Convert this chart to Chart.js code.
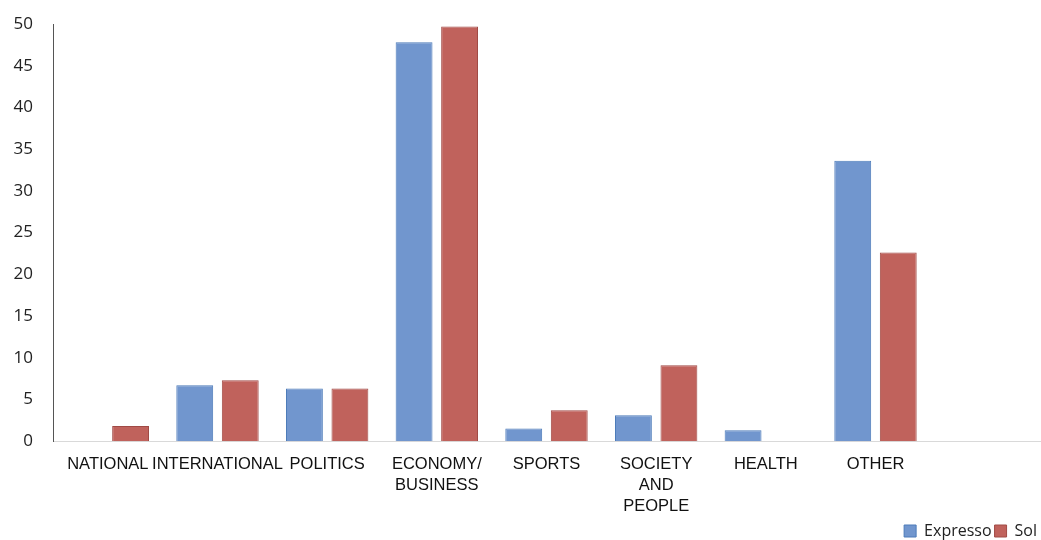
<!DOCTYPE html>
<html>
<head>
<meta charset="utf-8">
<script src="https://cdn.jsdelivr.net/npm/chart.js@4"></script>
<style>
    html, body { margin: 0; padding: 0; background: #ffffff; }
    #wrap { width: 1041px; height: 540px; }
</style>
</head>
<body>
<div id="wrap"><canvas id="grafico_temas"></canvas></div>
<script>
// categorias (a ultima fica vazia, como no original)
const categorias = ['NATIONAL', 'INTERNATIONAL', 'POLITICS', ['ECONOMY/', 'BUSINESS'], 'SPORTS',
    ['SOCIETY', 'AND', 'PEOPLE'], 'HEALTH', 'OTHER', ''];
const dadosExpresso = [0, 6.7, 6.3, 47.8, 1.5, 3.1, 1.3, 33.6, null];
const dadosSol = [1.8, 7.3, 6.3, 49.7, 3.7, 9.1, 0, 22.6, null];
const ticksY = [0, 5, 10, 15, 20, 25, 30, 35, 40, 45, 50];

const ctx = document.getElementById('grafico_temas').getContext('2d');
const myChart = new Chart(ctx, {
    type: 'bar',
    data: {
        labels: categorias,
        datasets: [{
            label: 'Expresso',
            data: dadosExpresso,
            backgroundColor: '#7196ce',
            borderColor: '#4c7bb9',
            borderWidth: 1,
            borderSkipped: 'bottom'
        }, {
            label: 'Sol',
            data: dadosSol,
            backgroundColor: '#c0625c',
            borderColor: '#a04a45',
            borderWidth: 1,
            borderSkipped: 'bottom'
        }]
    },
    options: {
        responsive: true,
        maintainAspectRatio: false,
        animation: false,
        categoryPercentage: 0.83,
        barPercentage: 0.81,
        layout: {
            padding: { top: 24, left: 12, right: 1, bottom: -9 }
        },
        plugins: {
            tooltip: { enabled: false },
            legend: {
                position: 'bottom',
                align: 'end',
                labels: {
                    boxWidth: 12,
                    boxHeight: 12,
                    padding: 3,
                    color: '#222',
                    font: { family: 'Open Sans', size: 16 }
                }
            }
        },
        scales: {
            x: {
                grid: { display: false, drawTicks: false },
                border: { color: '#d9d9d9', width: 1 },
                afterFit: function (scale) {
                    // sem folga lateral extra por causa dos rotulos
                    scale.paddingLeft = 0;
                    scale.paddingRight = 0;
                    scale.height -= 9;
                },
                ticks: {
                    color: '#111',
                    padding: 12.5,
                    maxRotation: 0,
                    autoSkip: false,
                    font: { family: 'Liberation Sans', size: 16.5, lineHeight: 1.27 }
                }
            },
            y: {
                min: 0,
                max: 50,
                afterBuildTicks: function (scale) {
                    scale.ticks = ticksY.map(function (v) { return { value: v }; });
                },
                afterFit: function (scale) {
                    scale.width = 41;
                    scale.paddingTop = 0;
                    scale.paddingBottom = 0;
                },
                grid: { display: false, drawTicks: false },
                border: { color: '#555', width: 1 },
                ticks: {
                    color: '#222',
                    padding: 20,
                    font: { family: 'Open Sans', size: 17 }
                }
            }
        }
    }
});
</script>
</body>
</html>
